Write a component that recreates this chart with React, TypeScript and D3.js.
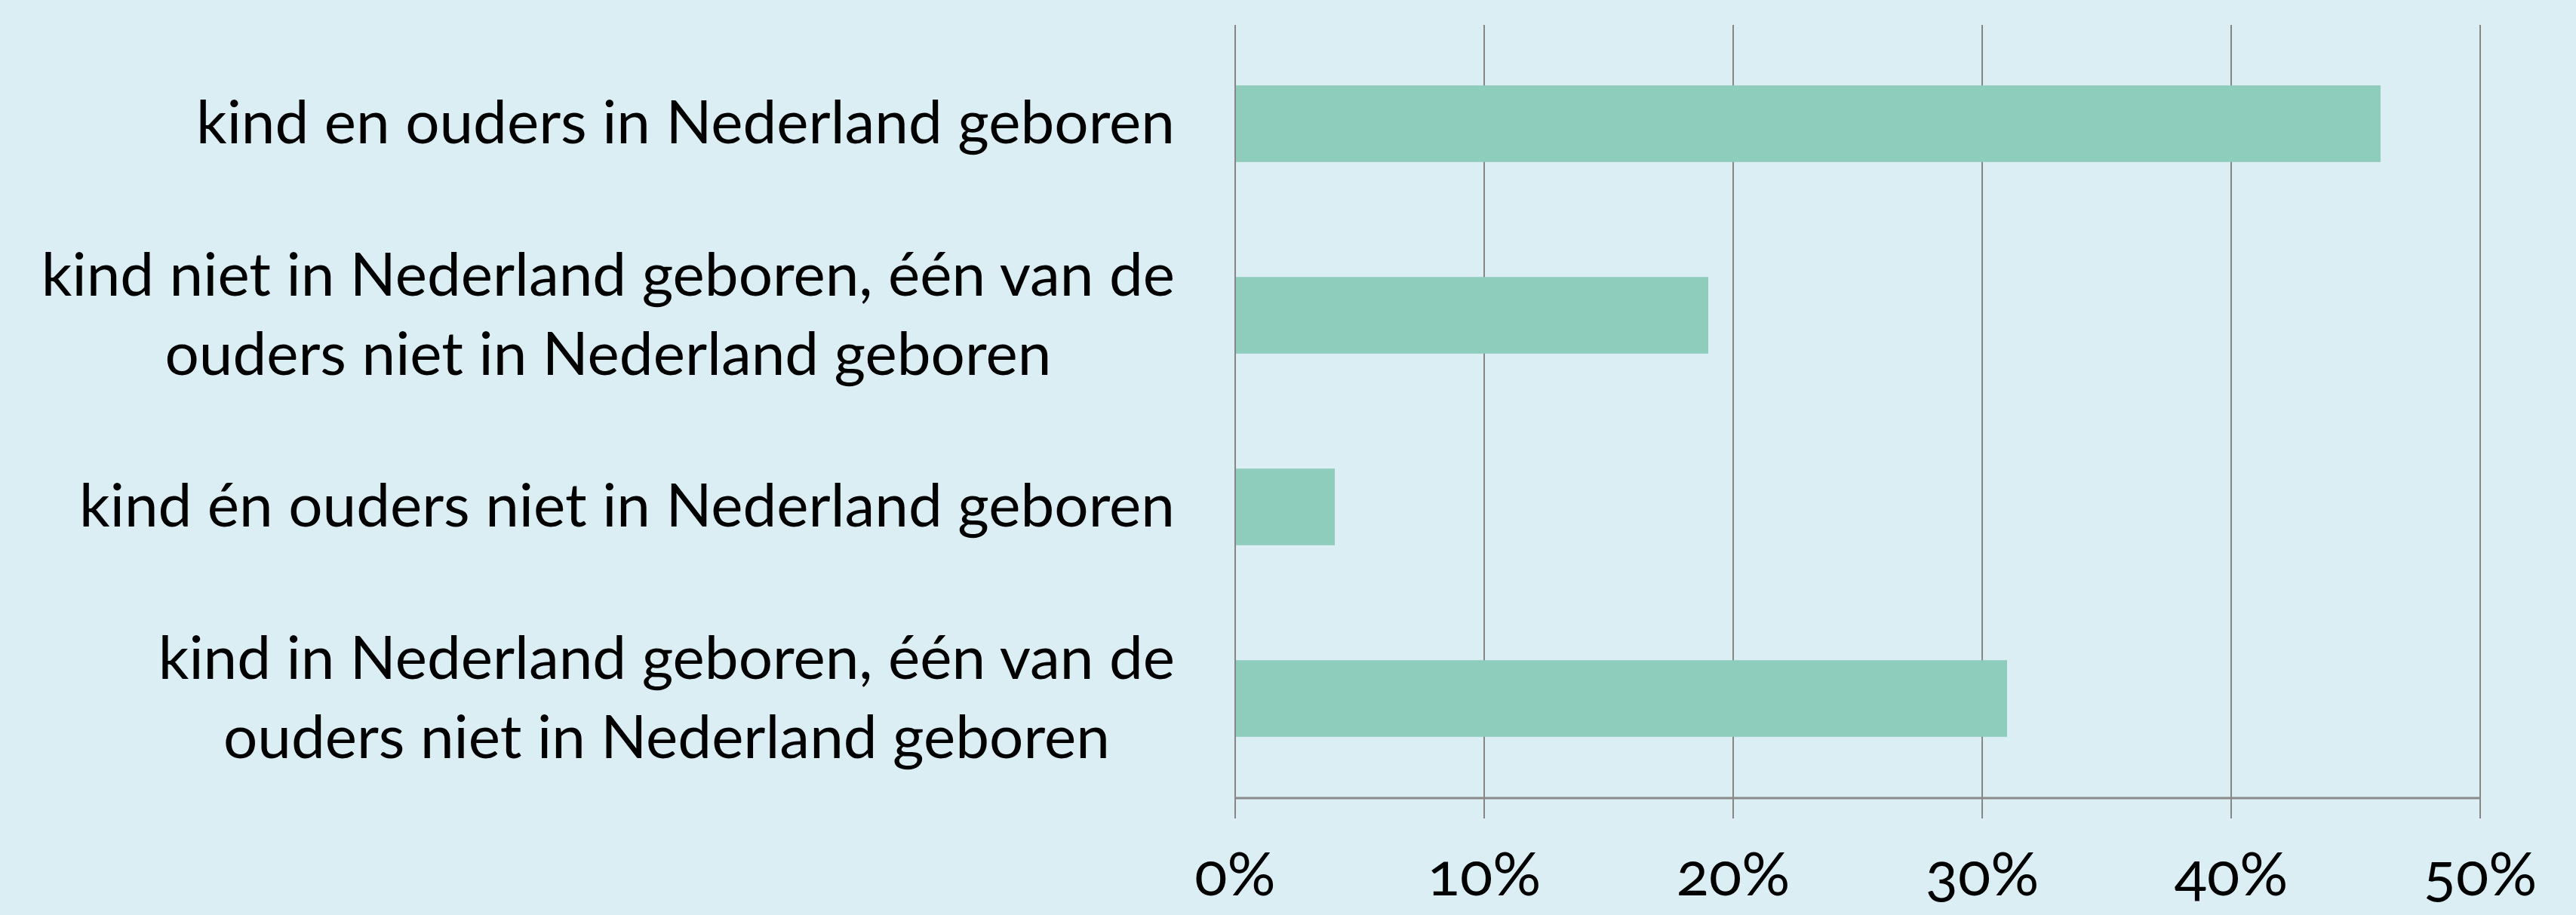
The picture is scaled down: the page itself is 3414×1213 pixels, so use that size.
import React, { useEffect, useRef } from "react";
import * as d3 from "d3";

const categoryLines: string[][] = [
  ["kind en ouders in Nederland geboren"],
  ["kind niet in Nederland geboren, één van de", "ouders niet in Nederland geboren"],
  ["kind én ouders niet in Nederland geboren"],
  ["kind in Nederland geboren, één van de", "ouders niet in Nederland geboren"],
];
const values: number[] = [46, 19, 4, 31];
const tickValues: number[] = [0, 10, 20, 30, 40, 50];

const W = 3414;
const H = 1213;
const FONT = "Lato, 'Open Sans', sans-serif";

export default function App() {
  const ref = useRef<SVGSVGElement | null>(null);

  useEffect(() => {
    document.body.style.margin = "0";
    const svg = d3.select(ref.current);
    svg.selectAll("*").remove();

    const left = 1637, right = 3287, top = 33, bottom = 1058;
    const x = d3.scaleLinear().domain([0, 50]).range([left, right]);
    const y = d3
      .scaleBand<number>()
      .domain(d3.range(values.length))
      .range([37, 1053])
      .paddingInner(0.6)
      .paddingOuter(0.3);

    svg.append("rect").attr("width", W).attr("height", H).attr("fill", "#DBEEF3");

    // gridlines
    svg
      .append("g")
      .selectAll("line")
      .data(tickValues)
      .join("line")
      .attr("x1", (d) => x(d))
      .attr("x2", (d) => x(d))
      .attr("y1", top)
      .attr("y2", bottom + 27)
      .attr("stroke", "#868686")
      .attr("stroke-width", 2);

    // bottom axis line
    svg
      .append("line")
      .attr("x1", left)
      .attr("x2", right)
      .attr("y1", bottom)
      .attr("y2", bottom)
      .attr("stroke", "#8a8a8a")
      .attr("stroke-width", 3);

    // bars
    svg
      .append("g")
      .selectAll("rect")
      .data(values)
      .join("rect")
      .attr("x", x(0) + 1)
      .attr("y", (_, i) => y(i)!)
      .attr("width", (d) => x(d) - x(0) - 1)
      .attr("height", y.bandwidth())
      .attr("fill", "#8ECCBC");

    // tick labels
    svg
      .append("g")
      .selectAll("text")
      .data(tickValues)
      .join("text")
      .attr("x", (d) => x(d))
      .attr("y", 1187)
      .attr("text-anchor", "middle")
      .attr("font-family", FONT)
      .attr("font-size", 80)
      .style("font-variant-numeric", "oldstyle-nums")
      .style("font-feature-settings", "'onum' 1")
      .attr("fill", "#000")
      .text((d) => `${d}%`);

    // category labels
    const labelRight = 1557;
    const lineH = 105;
    const fs = 80;
    categoryLines.forEach((lines, i) => {
      const cy = y(i)! + y.bandwidth() / 2;
      const g = svg.append("g");
      const n = lines.length;
      const texts = lines.map((ln, j) =>
        g
          .append("text")
          .attr("x", 0)
          .attr("y", cy + (j - (n - 1) / 2) * lineH + fs * 0.33)
          .attr("text-anchor", "middle")
          .attr("font-family", FONT)
          .attr("font-size", fs)
          .attr("fill", "#000")
          .text(ln)
      );
      const maxW = d3.max(texts, (t) => (t.node() as SVGTextElement).getComputedTextLength()) || 0;
      g.attr("transform", `translate(${labelRight - maxW / 2},0)`);
    });
  }, []);

  return <svg ref={ref} width={W} height={H} style={{ display: "block" }} />;
}
